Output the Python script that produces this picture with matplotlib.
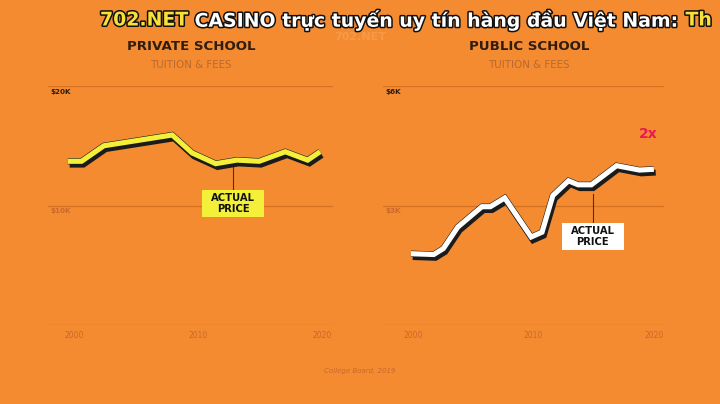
import matplotlib
matplotlib.use("Agg")
import matplotlib.pyplot as plt
import matplotlib.patheffects as pe
from matplotlib.patches import Rectangle

# ---- data ----
priv_years = [1999.5, 2000.6, 2002.4, 2007.9, 2009.5, 2011.4, 2013.1, 2014.9, 2017.0, 2018.8, 2019.8]
priv_vals = [13.7, 13.7, 15.0, 15.9, 14.4, 13.5, 13.8, 13.7, 14.5, 13.8, 14.5]   # $K

pub_years = [1999.8, 2001.7, 2002.5, 2003.7, 2005.7, 2006.4, 2007.6, 2009.8, 2010.7,
             2011.6, 2012.9, 2013.7, 2014.8, 2016.9, 2018.8, 2020.0]
pub_vals = [1.79, 1.77, 1.92, 2.46, 2.97, 2.97, 3.19, 2.21, 2.33,
            3.25, 3.62, 3.52, 3.52, 4.00, 3.89, 3.91]                           # $K

x_ticks = [2000, 2010, 2020]
priv_yticks = [0, 10, 20]
priv_ylabels = ["", "$10K", "$20K"]
pub_yticks = [0, 3, 6]
pub_ylabels = ["", "$3K", "$6K"]

priv_annot_year = 2012.8
pub_annot_year = 2014.9

BG = "#f58b30"
GRID = "#d6711f"
DARK = "#2e1d10"
FADE = "#c9682a"
SUB = "#b8692e"

fig = plt.figure(figsize=(7.2, 4.04), dpi=100)
fig.patch.set_facecolor(BG)

axL = fig.add_axes([48/720, 1-325/404, 285/720, 239/404])
axR = fig.add_axes([383/720, 1-325/404, 281/720, 239/404])

def style(ax, yt, ylabels, ymax, xlim):
    ax.set_facecolor(BG)
    ax.set_xlim(*xlim)
    ax.set_ylim(0, ymax)
    for s in ax.spines.values():
        s.set_visible(False)
    for v in yt:
        ax.axhline(v, color=GRID, lw=0.9, zorder=1)
    ax.set_yticks([])
    ax.set_xticks(x_ticks)
    ax.set_xticklabels([str(t) for t in x_ticks], fontsize=5.5, color=FADE)
    ax.tick_params(axis="x", length=0, pad=4)
    for v, lab in zip(yt, ylabels):
        if lab:
            col = DARK if v == ymax else FADE
            ax.text(0.008, v - ymax*0.012, lab, transform=ax.get_yaxis_transform(),
                    ha="left", va="top", fontsize=5.2, fontweight="bold", color=col)

style(axL, priv_yticks, priv_ylabels, 20, (1997.9, 2020.84))
style(axR, pub_yticks, pub_ylabels, 6, (1997.48, 2020.84))

def styled_line(ax, xs, ys, color):
    ax.plot(xs, ys, color=color, lw=3.7, solid_joinstyle="miter", solid_capstyle="butt",
            zorder=5,
            path_effects=[pe.SimpleLineShadow(offset=(1.3, -2.4), shadow_color="#1b1b1b",
                                              alpha=1, linewidth=4.3),
                          pe.Stroke(linewidth=4.5, foreground="#1b1b1b"),
                          pe.Normal()])

styled_line(axL, priv_years, priv_vals, "#f4f03a")
styled_line(axR, pub_years, pub_vals, "#ffffff")

# annotations
labels = []
def annot(ax, yr, yline, ybox, face):
    ax.plot([yr, yr], [yline, ybox], color="#4a3020", lw=0.8, zorder=3)
    t = ax.text(yr, ybox, "ACTUAL\nPRICE", ha="center", va="top", fontsize=7.2,
                fontweight="bold", color="#111111", linespacing=1.1, zorder=7)
    labels.append((ax, t, face))

annot(axL, priv_annot_year, 13.3, 11.05, "#f4f03a")
annot(axR, pub_annot_year, 3.3, 2.48, "#ffffff")

axR.text(2019.5, 4.8, "2x", ha="center", va="center", fontsize=10,
         fontweight="bold", color="#e8194f")

# titles
fig.text(191/720, 1-47/404, "PRIVATE SCHOOL", ha="center", va="center",
         fontsize=9.6, fontweight="bold", color=DARK)
fig.text(191/720, 1-65/404, "TUITION & FEES", ha="center", va="center",
         fontsize=7.4, fontweight="medium", color=SUB)
fig.text(529/720, 1-47/404, "PUBLIC SCHOOL", ha="center", va="center",
         fontsize=9.6, fontweight="bold", color=DARK)
fig.text(529/720, 1-65/404, "TUITION & FEES", ha="center", va="center",
         fontsize=7.4, fontweight="medium", color=SUB)

fig.text(360/720, 1-371/404, "College Board, 2019", ha="center", va="center",
         fontsize=5, style="italic", color=FADE)

# faint watermark
fig.text(360/720, 1-37/404, "702.NET", ha="center", va="center",
         fontsize=8, fontweight="bold", color="#f79a48")

# overlay banner
BFS = 13.6
stroke = [pe.withStroke(linewidth=2.2, foreground="#111111")]
t1 = fig.text(100/720, 1-20/404, "702.NET", ha="left", va="center", fontsize=BFS,
              fontweight="bold", color="#f7e03a", path_effects=stroke)
t2 = plt.annotate(" CASINO trực tuyến uy tín hàng đầu Việt Nam: ", xy=(1, 0.5),
                  xycoords=t1, va="center", ha="left", fontsize=BFS,
                  fontweight="bold", color="white", path_effects=stroke,
                  annotation_clip=False)
t3 = plt.annotate("Th", xy=(1, 0.5), xycoords=t2, va="center", ha="left",
                  fontsize=BFS, fontweight="bold", color="#f7e03a",
                  path_effects=stroke, annotation_clip=False)

# boxes behind annotation text, sized from the rendered text
fig.canvas.draw()
r = fig.canvas.get_renderer()
for ax, t, face in labels:
    bb = t.get_window_extent(renderer=r)
    padx, pady = 9, 3
    rect = Rectangle((bb.x0 - padx, bb.y0 - pady), bb.width + 2*padx, bb.height + 2*pady,
                     transform=None, facecolor=face, edgecolor="none", zorder=6)
    ax.add_artist(rect)

fig.savefig("out.png", dpi=100, facecolor=BG)
